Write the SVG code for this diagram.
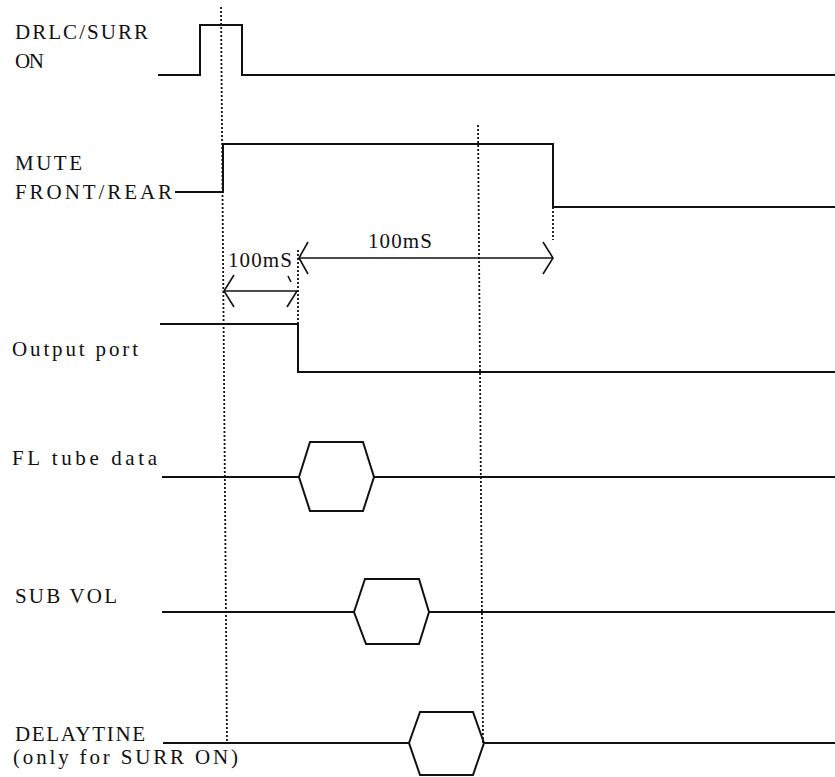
<svg xmlns="http://www.w3.org/2000/svg" width="835" height="777" viewBox="0 0 835 777">
<style>
.lbl{font-family:"Liberation Serif","Times New Roman",serif;font-size:21px;fill:#111}
.sig{fill:none;stroke:#111;stroke-width:2;stroke-linejoin:miter}
.dot{fill:none;stroke:#111;stroke-width:1.8;stroke-dasharray:2 2}
.arr{fill:none;stroke:#111;stroke-width:1.6}
</style>
<rect width="835" height="777" fill="#fff"/>
<g id="guides">
<line class="dot" x1="221" y1="7" x2="227" y2="743"/>
<line class="dot" x1="478" y1="125" x2="483" y2="743"/>
<line class="dot" x1="553" y1="207" x2="553" y2="240"/>
<line class="dot" x1="298" y1="250" x2="298" y2="324"/>
</g>
<g id="drlc">
<text class="lbl" x="15" y="39" textLength="133" lengthAdjust="spacing">DRLC/SURR</text>
<text class="lbl" x="15" y="68" textLength="29" lengthAdjust="spacing">ON</text>
<polyline class="sig" points="158,75 200,75 200,25 242,25 242,75 835,75"/>
</g>
<g id="mute">
<text class="lbl" x="15" y="170" textLength="67" lengthAdjust="spacing">MUTE</text>
<text class="lbl" x="15" y="199" textLength="157" lengthAdjust="spacing">FRONT/REAR</text>
<polyline class="sig" points="175,192 223,192 223,144 553,144 553,207 835,207"/>
</g>
<g id="timing">
<text class="lbl" x="228" y="267" textLength="64" lengthAdjust="spacing">100mS</text>
<text class="lbl" x="368" y="248" textLength="64" lengthAdjust="spacing">100mS</text>
<line class="arr" x1="224" y1="291" x2="297" y2="291"/>
<polyline class="arr" points="234,275 224,291 234,307"/>
<polyline class="arr" points="287,307 297,291"/>
<line class="arr" x1="288" y1="276" x2="291" y2="282"/>
<line class="arr" x1="299" y1="258" x2="553" y2="258"/>
<polyline class="arr" points="308,242 299,258 308,274"/>
<polyline class="arr" points="543,242 553,258 543,274"/>
</g>
<g id="output">
<text class="lbl" x="12" y="356" textLength="126" lengthAdjust="spacing">Output port</text>
<polyline class="sig" points="160,324 298,324 298,372 835,372"/>
</g>
<g id="fltube">
<text class="lbl" x="12" y="465" textLength="145" lengthAdjust="spacing">FL tube data</text>
<line class="sig" x1="162" y1="477" x2="299" y2="477"/>
<polygon class="sig" points="299,477 310,442 363,442 374,477 363,511 310,511"/>
<line class="sig" x1="374" y1="477" x2="835" y2="477"/>
</g>
<g id="subvol">
<text class="lbl" x="15" y="603" textLength="102" lengthAdjust="spacing">SUB VOL</text>
<line class="sig" x1="162" y1="612" x2="354" y2="612"/>
<polygon class="sig" points="354,612 365,579 419,579 429,612 419,644 366,644"/>
<line class="sig" x1="429" y1="612" x2="835" y2="612"/>
</g>
<g id="delay">
<text class="lbl" x="15" y="741" textLength="130" lengthAdjust="spacing">DELAYTINE</text>
<text class="lbl" x="13" y="764" textLength="225" lengthAdjust="spacing">(only for SURR ON)</text>
<line class="sig" x1="163" y1="743" x2="409" y2="743"/>
<polygon class="sig" points="409,743 420,712 473,712 484,743 473,775 420,775"/>
<line class="sig" x1="484" y1="743" x2="835" y2="743"/>
</g>
</svg>
